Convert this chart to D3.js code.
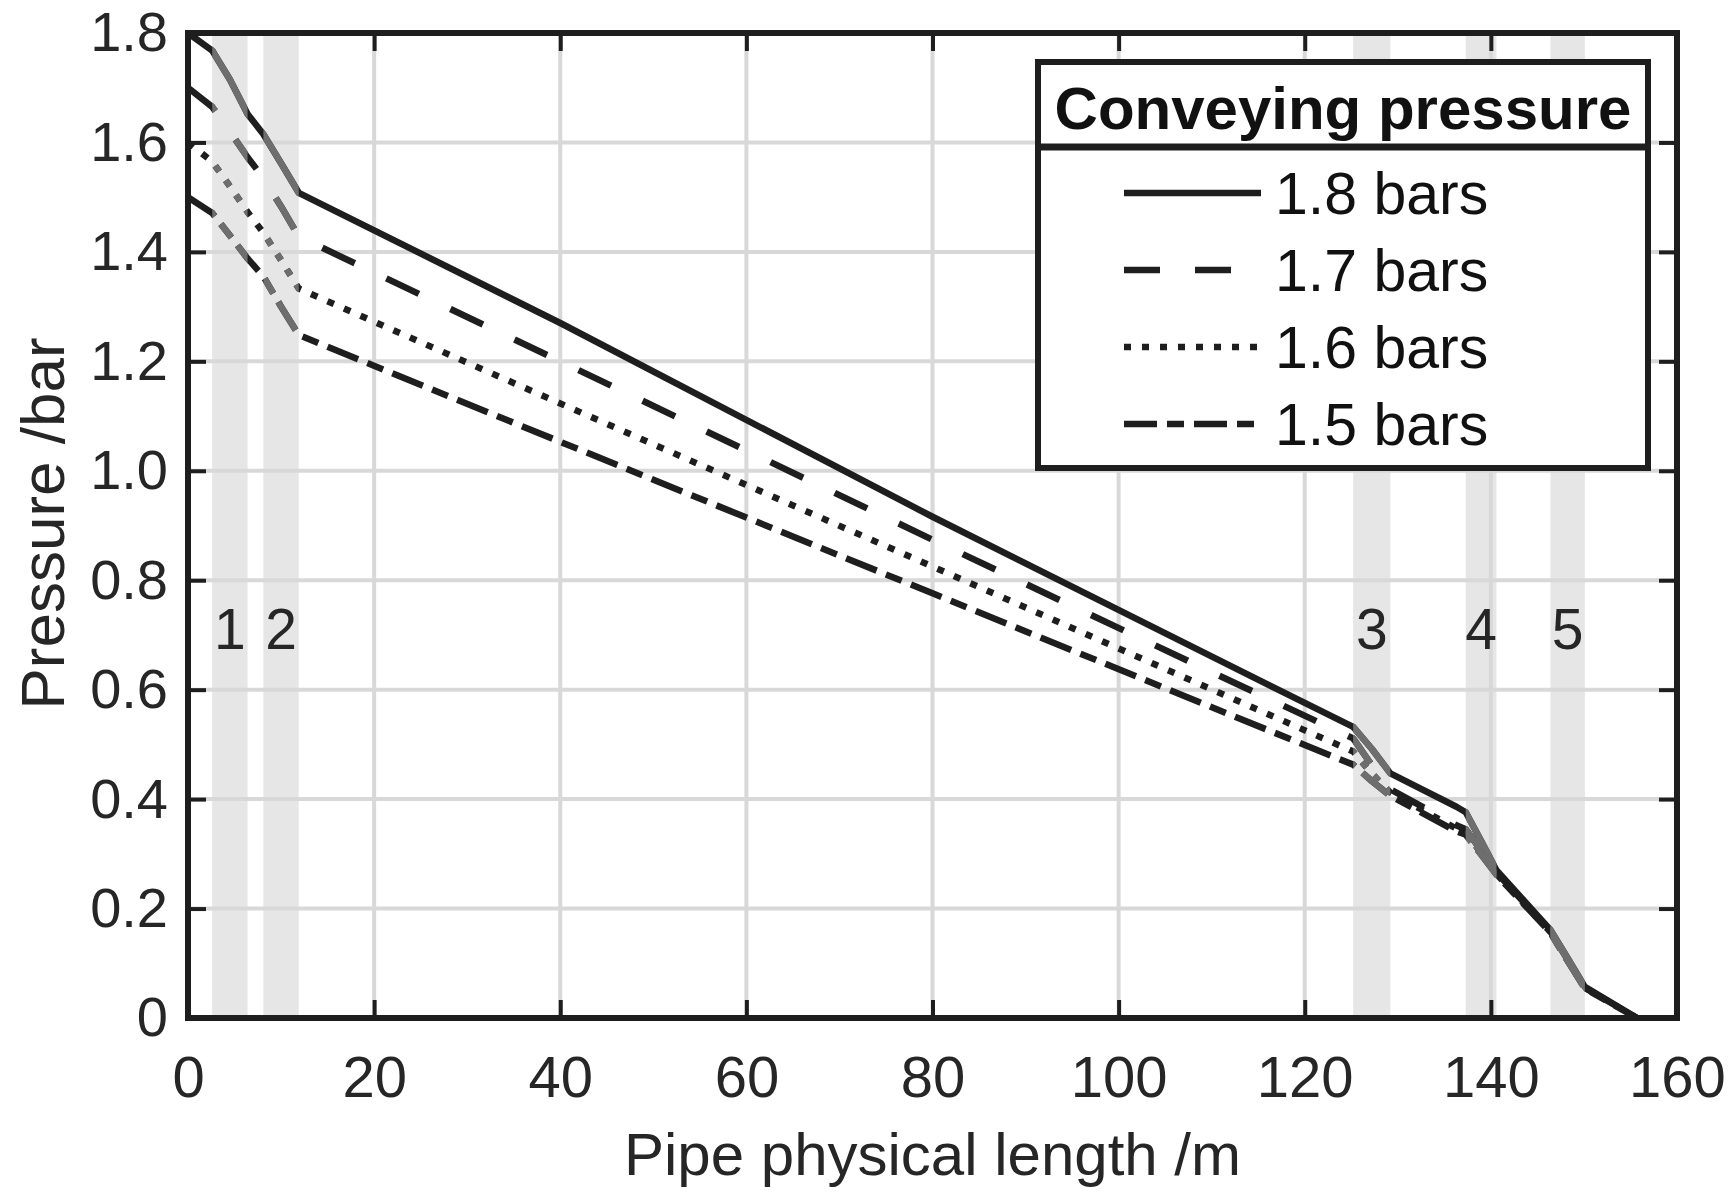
<!DOCTYPE html>
<html>
<head>
<meta charset="utf-8">
<script src="https://cdn.jsdelivr.net/npm/d3@7"></script>
<style>
  html, body { margin: 0; padding: 0; background: #fff; }
  svg { display: block; font-family: "Liberation Sans", Arial, Helvetica, sans-serif; }
</style>
</head>
<body>
<svg id="chart" width="1733" height="1193"></svg>
<script>
// Pipe distance (m) at which pressures are sampled
const distance = [0, 2.6, 4.5, 6.4, 8.1, 10.0, 11.9, 40, 80, 111, 125.2, 127.2, 129.2, 136.3, 137.3, 139.0, 140.6, 146.4, 148.3, 150.1, 155.7];

// Pressure profiles (bar) for each conveying pressure
const p18 = [1.80, 1.768, 1.715, 1.652, 1.615, 1.562, 1.508, 1.270, 0.916, 0.652, 0.532, 0.492, 0.447, 0.386, 0.376, 0.322, 0.270, 0.161, 0.108, 0.057, 0];
const p17 = [1.70, 1.665, 1.620, 1.573, 1.535, 1.483, 1.428, 1.200, 0.874, 0.624, 0.511, 0.462, 0.418, 0.352, 0.345, 0.305, 0.266, 0.158, 0.105, 0.055, 0];
const p16 = [1.60, 1.565, 1.520, 1.473, 1.435, 1.385, 1.333, 1.123, 0.825, 0.593, 0.487, 0.447, 0.412, 0.346, 0.340, 0.300, 0.263, 0.157, 0.104, 0.055, 0];
const p15 = [1.50, 1.471, 1.430, 1.388, 1.355, 1.300, 1.248, 1.053, 0.776, 0.561, 0.463, 0.433, 0.406, 0.341, 0.335, 0.298, 0.262, 0.156, 0.103, 0.054, 0];

const seriesLabels = ["1.8 bars", "1.7 bars", "1.6 bars", "1.5 bars"];
const seriesValues = [p18, p17, p16, p15];

// Bend sections along the pipe (start, end in m) and their numbers
const bendStart = [2.6, 8.1, 125.2, 137.3, 146.4];
const bendEnd   = [6.4, 11.9, 129.2, 140.6, 150.1];
const bendLabels = ["1", "2", "3", "4", "5"];

const xTicks = [0, 20, 40, 60, 80, 100, 120, 140, 160];
const yTicks = [0, 0.2, 0.4, 0.6, 0.8, 1.0, 1.2, 1.4, 1.6, 1.8];
const yTickLabels = ["0", "0.2", "0.4", "0.6", "0.8", "1.0", "1.2", "1.4", "1.6", "1.8"];

// ---- drawing ----
const svg = d3.select("#chart");
const ink = "#1e1e1e";
const bendGray = "#6e6e6e";
const curveWidth = 6.5;

const plotL = 188, plotR = 1677, plotT = 33, plotB = 1018;
const x = d3.scaleLinear().domain([0, 160]).range([plotL, plotR]);
const y = d3.scaleLinear().domain([0, 1.8]).range([plotB, plotT]);

// line styles per series
const dashes = [null, "36,35", "7,11", "33,10,17,10"];

// bend shading
svg.append("g").selectAll("rect").data(bendStart).join("rect")
  .attr("x", (d) => x(d))
  .attr("y", plotT)
  .attr("width", (d, i) => x(bendEnd[i]) - x(d))
  .attr("height", plotB - plotT)
  .attr("fill", "#e6e6e6");

// grid
const grid = svg.append("g").attr("stroke", "#d8d8d8").attr("stroke-width", 4);
grid.selectAll("line.v").data(xTicks.slice(1, -1)).join("line").attr("class", "v")
  .attr("x1", (d) => x(d)).attr("x2", (d) => x(d))
  .attr("y1", plotT).attr("y2", plotB);
grid.selectAll("line.h").data(yTicks.slice(1, -1)).join("line").attr("class", "h")
  .attr("x1", plotL).attr("x2", plotR)
  .attr("y1", (d) => y(d)).attr("y2", (d) => y(d));

// clip for the bend sections, where curves are drawn in gray
const clip = svg.append("defs").append("clipPath").attr("id", "bends");
clip.selectAll("rect").data(bendStart).join("rect")
  .attr("x", (d) => x(d))
  .attr("y", 0)
  .attr("width", (d, i) => x(bendEnd[i]) - x(d))
  .attr("height", 1193);

const line = d3.line()
  .x((d, i) => x(distance[i]))
  .y((d) => y(d));

const curves = svg.append("g").attr("fill", "none");
seriesValues.forEach((vals, k) => {
  curves.append("path")
    .attr("d", line(vals))
    .attr("stroke", ink)
    .attr("stroke-width", curveWidth)
    .attr("stroke-linejoin", "round")
    .attr("stroke-dasharray", dashes[k]);
});
seriesValues.forEach((vals, k) => {
  curves.append("path")
    .attr("d", line(vals))
    .attr("clip-path", "url(#bends)")
    .attr("stroke", bendGray)
    .attr("stroke-width", curveWidth)
    .attr("stroke-linejoin", "round")
    .attr("stroke-dasharray", dashes[k]);
});

// axes: inward ticks on all four sides
function styleAxis(g) {
  g.select(".domain").remove();
  g.selectAll(".tick line").attr("stroke", ink).attr("stroke-width", 4);
  g.selectAll(".tick text").attr("fill", "#262626").attr("font-family", "Liberation Sans, Arial, sans-serif");
}
svg.append("g").attr("transform", `translate(0,${plotB})`)
  .call(d3.axisBottom(x).tickValues(xTicks).tickFormat(d3.format("d")).tickSize(-18).tickPadding(38))
  .call(styleAxis)
  .selectAll(".tick text").attr("font-size", 58);
svg.append("g").attr("transform", `translate(0,${plotT})`)
  .call(d3.axisTop(x).tickValues(xTicks).tickFormat("").tickSize(-18))
  .call(styleAxis);
svg.append("g").attr("transform", `translate(${plotL},0)`)
  .call(d3.axisLeft(y).tickValues(yTicks).tickFormat((d, i) => yTickLabels[i]).tickSize(-18).tickPadding(20))
  .call(styleAxis)
  .selectAll(".tick text").attr("font-size", 56);
svg.append("g").attr("transform", `translate(${plotR},0)`)
  .call(d3.axisRight(y).tickValues(yTicks).tickFormat("").tickSize(-18))
  .call(styleAxis);

// frame
svg.append("rect")
  .attr("x", plotL).attr("y", plotT)
  .attr("width", plotR - plotL).attr("height", plotB - plotT)
  .attr("fill", "none").attr("stroke", ink).attr("stroke-width", 6);

// bend numbers
svg.append("g").selectAll("text").data(bendLabels).join("text")
  .attr("x", (d, i) => x((bendStart[i] + bendEnd[i]) / 2))
  .attr("y", y(0.675))
  .attr("text-anchor", "middle")
  .attr("font-size", 57)
  .attr("fill", "#262626")
  .text((d) => d);

// axis titles
svg.append("text")
  .attr("x", (plotL + plotR) / 2).attr("y", 1175)
  .attr("text-anchor", "middle").attr("font-size", 60).attr("fill", "#262626")
  .text("Pipe physical length /m");
svg.append("text")
  .attr("transform", `translate(64,${(plotT + plotB) / 2 - 2}) rotate(-90)`)
  .attr("text-anchor", "middle").attr("font-size", 62).attr("fill", "#262626")
  .text("Pressure /bar");

// legend
const lg = svg.append("g");
const lgX0 = 1038, lgX1 = 1648, lgY0 = 62, lgDiv = 147, lgY1 = 468;
lg.append("rect")
  .attr("x", lgX0).attr("y", lgY0).attr("width", lgX1 - lgX0).attr("height", lgY1 - lgY0)
  .attr("fill", "#fff").attr("stroke", ink).attr("stroke-width", 6);
lg.append("line")
  .attr("x1", lgX0).attr("x2", lgX1).attr("y1", lgDiv).attr("y2", lgDiv)
  .attr("stroke", ink).attr("stroke-width", 7);
lg.append("text")
  .attr("x", (lgX0 + lgX1) / 2).attr("y", 129)
  .attr("text-anchor", "middle").attr("font-size", 60).attr("font-weight", "bold").attr("fill", "#111")
  .text("Conveying pressure");
const rowY = [193, 270, 347, 424];
seriesLabels.forEach((lab, k) => {
  lg.append("line")
    .attr("x1", 1124).attr("x2", 1261)
    .attr("y1", rowY[k]).attr("y2", rowY[k])
    .attr("stroke", ink).attr("stroke-width", curveWidth)
    .attr("stroke-dasharray", dashes[k]);
  lg.append("text")
    .attr("x", 1275).attr("y", rowY[k] + 21)
    .attr("font-size", 59).attr("fill", "#111")
    .text(lab);
});
</script>
</body>
</html>
